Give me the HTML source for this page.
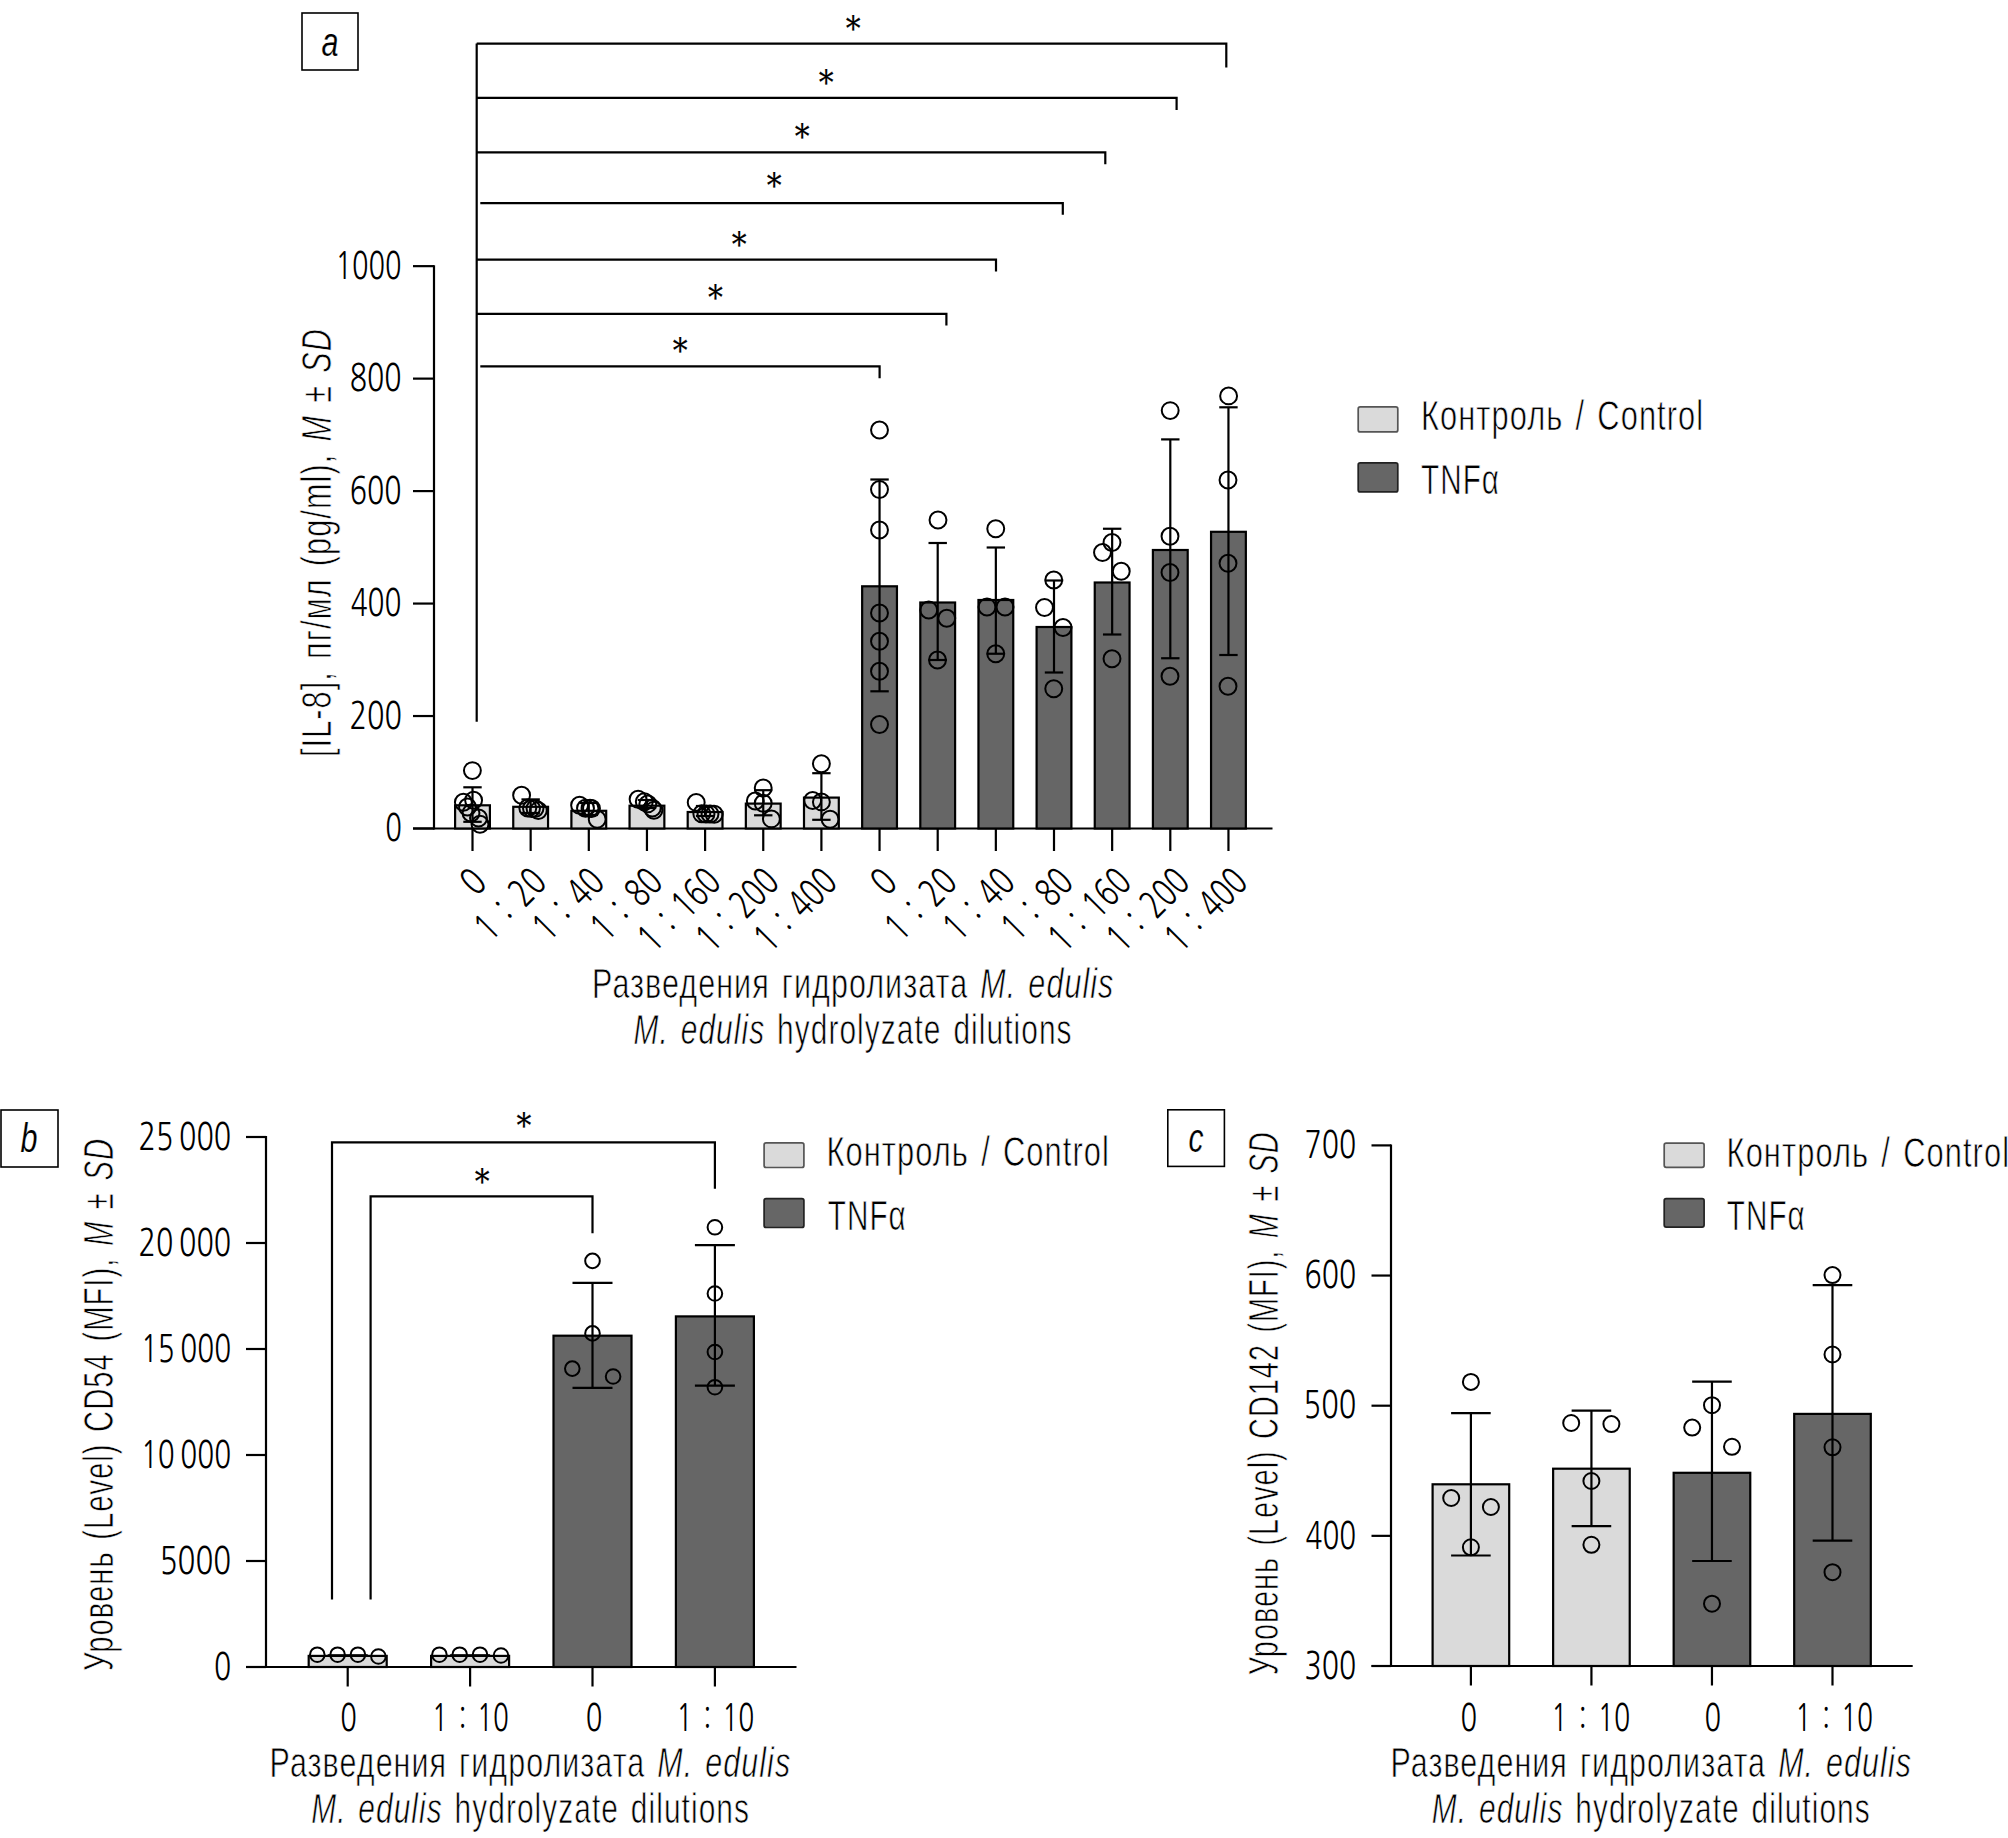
<!DOCTYPE html>
<html><head><meta charset="utf-8"><title>Figure</title>
<style>html,body{margin:0;padding:0;background:#fff;} svg{display:block;}</style>
</head><body>
<svg width="2008" height="1838" viewBox="0 0 2008 1838" font-family="'Liberation Sans', 'DejaVu Sans', sans-serif" fill="#000">
<style>text{stroke:#fff;stroke-width:0.75px;word-spacing:3.5px;letter-spacing:1.5px;} text.st{stroke:#000;stroke-width:0.15px;} text.lab{stroke-width:0.2px;} text.num{font-family:NanumGothic,'Liberation Sans',sans-serif;stroke-width:0.0px;letter-spacing:0px;word-spacing:5px;} text.lab{letter-spacing:0px;}</style>
<rect x="0" y="0" width="2008" height="1838" fill="#fff"/>
<rect x="302.00" y="13.00" width="56.00" height="57.00" fill="none" stroke="#000" stroke-width="1.6" rx="0"/>
<text x="321.50" y="56.30" font-size="40" text-anchor="start" textLength="17.00" lengthAdjust="spacingAndGlyphs" font-style="italic" class="lab">a</text>
<line x1="434.00" y1="265.15" x2="434.00" y2="829.50" stroke="#000" stroke-width="2.2"/>
<line x1="413.00" y1="828.50" x2="434.00" y2="828.50" stroke="#000" stroke-width="2.2"/>
<text x="401.90" y="841.20" font-size="38.0" text-anchor="end" textLength="16.65" lengthAdjust="spacingAndGlyphs" class="num">0</text>
<line x1="413.00" y1="716.03" x2="434.00" y2="716.03" stroke="#000" stroke-width="2.2"/>
<text x="401.90" y="728.73" font-size="38.0" text-anchor="end" textLength="52.45" lengthAdjust="spacingAndGlyphs" class="num">200</text>
<line x1="413.00" y1="603.56" x2="434.00" y2="603.56" stroke="#000" stroke-width="2.2"/>
<text x="401.50" y="616.26" font-size="38.0" text-anchor="end" textLength="50.85" lengthAdjust="spacingAndGlyphs" class="num">400</text>
<line x1="413.00" y1="491.09" x2="434.00" y2="491.09" stroke="#000" stroke-width="2.2"/>
<text x="401.50" y="503.79" font-size="38.0" text-anchor="end" textLength="51.85" lengthAdjust="spacingAndGlyphs" class="num">600</text>
<line x1="413.00" y1="378.62" x2="434.00" y2="378.62" stroke="#000" stroke-width="2.2"/>
<text x="401.50" y="391.32" font-size="38.0" text-anchor="end" textLength="51.85" lengthAdjust="spacingAndGlyphs" class="num">800</text>
<line x1="413.00" y1="266.15" x2="434.00" y2="266.15" stroke="#000" stroke-width="2.2"/>
<text x="401.50" y="278.85" font-size="38.0" text-anchor="end" textLength="66.00" lengthAdjust="spacingAndGlyphs" class="num">1000</text>
<g>
<text transform="translate(331.20,542.00) rotate(-90)" x="-0.50" y="0" font-size="42.5" text-anchor="middle" textLength="429.00" lengthAdjust="spacingAndGlyphs">[IL-8], пг/мл (pg/ml), <tspan font-style="italic">M</tspan> ± <tspan font-style="italic">SD</tspan></text>
</g>
<line x1="413.00" y1="828.50" x2="1272.50" y2="828.50" stroke="#000" stroke-width="2.2"/>
<line x1="472.50" y1="828.50" x2="472.50" y2="851.00" stroke="#000" stroke-width="2.2"/>
<line x1="530.65" y1="828.50" x2="530.65" y2="851.00" stroke="#000" stroke-width="2.2"/>
<line x1="588.80" y1="828.50" x2="588.80" y2="851.00" stroke="#000" stroke-width="2.2"/>
<line x1="646.95" y1="828.50" x2="646.95" y2="851.00" stroke="#000" stroke-width="2.2"/>
<line x1="705.10" y1="828.50" x2="705.10" y2="851.00" stroke="#000" stroke-width="2.2"/>
<line x1="763.25" y1="828.50" x2="763.25" y2="851.00" stroke="#000" stroke-width="2.2"/>
<line x1="821.40" y1="828.50" x2="821.40" y2="851.00" stroke="#000" stroke-width="2.2"/>
<line x1="879.55" y1="828.50" x2="879.55" y2="851.00" stroke="#000" stroke-width="2.2"/>
<line x1="937.70" y1="828.50" x2="937.70" y2="851.00" stroke="#000" stroke-width="2.2"/>
<line x1="995.85" y1="828.50" x2="995.85" y2="851.00" stroke="#000" stroke-width="2.2"/>
<line x1="1054.00" y1="828.50" x2="1054.00" y2="851.00" stroke="#000" stroke-width="2.2"/>
<line x1="1112.15" y1="828.50" x2="1112.15" y2="851.00" stroke="#000" stroke-width="2.2"/>
<line x1="1170.30" y1="828.50" x2="1170.30" y2="851.00" stroke="#000" stroke-width="2.2"/>
<line x1="1228.45" y1="828.50" x2="1228.45" y2="851.00" stroke="#000" stroke-width="2.2"/>
<rect x="455.10" y="805.30" width="34.80" height="23.20" fill="#dadada" stroke="#000" stroke-width="2.2" rx="0"/>
<rect x="513.25" y="806.80" width="34.80" height="21.70" fill="#dadada" stroke="#000" stroke-width="2.2" rx="0"/>
<rect x="571.40" y="810.80" width="34.80" height="17.70" fill="#dadada" stroke="#000" stroke-width="2.2" rx="0"/>
<rect x="629.55" y="805.70" width="34.80" height="22.80" fill="#dadada" stroke="#000" stroke-width="2.2" rx="0"/>
<rect x="687.70" y="812.00" width="34.80" height="16.50" fill="#dadada" stroke="#000" stroke-width="2.2" rx="0"/>
<rect x="745.85" y="803.60" width="34.80" height="24.90" fill="#dadada" stroke="#000" stroke-width="2.2" rx="0"/>
<rect x="804.00" y="797.60" width="34.80" height="30.90" fill="#dadada" stroke="#000" stroke-width="2.2" rx="0"/>
<rect x="862.15" y="586.30" width="34.80" height="242.20" fill="#666666" stroke="#000" stroke-width="2.2" rx="0"/>
<rect x="920.30" y="602.50" width="34.80" height="226.00" fill="#666666" stroke="#000" stroke-width="2.2" rx="0"/>
<rect x="978.45" y="600.00" width="34.80" height="228.50" fill="#666666" stroke="#000" stroke-width="2.2" rx="0"/>
<rect x="1036.60" y="627.00" width="34.80" height="201.50" fill="#666666" stroke="#000" stroke-width="2.2" rx="0"/>
<rect x="1094.75" y="582.50" width="34.80" height="246.00" fill="#666666" stroke="#000" stroke-width="2.2" rx="0"/>
<rect x="1152.90" y="550.00" width="34.80" height="278.50" fill="#666666" stroke="#000" stroke-width="2.2" rx="0"/>
<rect x="1211.05" y="531.80" width="34.80" height="296.70" fill="#666666" stroke="#000" stroke-width="2.2" rx="0"/>
<line x1="472.50" y1="787.30" x2="472.50" y2="821.80" stroke="#000" stroke-width="2.2"/>
<line x1="463.30" y1="787.30" x2="481.70" y2="787.30" stroke="#000" stroke-width="2.2"/>
<line x1="463.30" y1="821.80" x2="481.70" y2="821.80" stroke="#000" stroke-width="2.2"/>
<line x1="530.65" y1="799.40" x2="530.65" y2="813.00" stroke="#000" stroke-width="2.2"/>
<line x1="521.45" y1="799.40" x2="539.85" y2="799.40" stroke="#000" stroke-width="2.2"/>
<line x1="521.45" y1="813.00" x2="539.85" y2="813.00" stroke="#000" stroke-width="2.2"/>
<line x1="588.80" y1="803.00" x2="588.80" y2="815.00" stroke="#000" stroke-width="2.2"/>
<line x1="579.60" y1="803.00" x2="598.00" y2="803.00" stroke="#000" stroke-width="2.2"/>
<line x1="579.60" y1="815.00" x2="598.00" y2="815.00" stroke="#000" stroke-width="2.2"/>
<line x1="646.95" y1="800.00" x2="646.95" y2="808.00" stroke="#000" stroke-width="2.2"/>
<line x1="637.75" y1="800.00" x2="656.15" y2="800.00" stroke="#000" stroke-width="2.2"/>
<line x1="637.75" y1="808.00" x2="656.15" y2="808.00" stroke="#000" stroke-width="2.2"/>
<line x1="705.10" y1="806.00" x2="705.10" y2="816.00" stroke="#000" stroke-width="2.2"/>
<line x1="695.90" y1="806.00" x2="714.30" y2="806.00" stroke="#000" stroke-width="2.2"/>
<line x1="695.90" y1="816.00" x2="714.30" y2="816.00" stroke="#000" stroke-width="2.2"/>
<line x1="763.25" y1="790.20" x2="763.25" y2="815.30" stroke="#000" stroke-width="2.2"/>
<line x1="754.05" y1="790.20" x2="772.45" y2="790.20" stroke="#000" stroke-width="2.2"/>
<line x1="754.05" y1="815.30" x2="772.45" y2="815.30" stroke="#000" stroke-width="2.2"/>
<line x1="821.40" y1="773.20" x2="821.40" y2="819.80" stroke="#000" stroke-width="2.2"/>
<line x1="812.20" y1="773.20" x2="830.60" y2="773.20" stroke="#000" stroke-width="2.2"/>
<line x1="812.20" y1="819.80" x2="830.60" y2="819.80" stroke="#000" stroke-width="2.2"/>
<line x1="879.55" y1="479.50" x2="879.55" y2="691.30" stroke="#000" stroke-width="2.2"/>
<line x1="870.35" y1="479.50" x2="888.75" y2="479.50" stroke="#000" stroke-width="2.2"/>
<line x1="870.35" y1="691.30" x2="888.75" y2="691.30" stroke="#000" stroke-width="2.2"/>
<line x1="937.70" y1="543.00" x2="937.70" y2="660.00" stroke="#000" stroke-width="2.2"/>
<line x1="928.50" y1="543.00" x2="946.90" y2="543.00" stroke="#000" stroke-width="2.2"/>
<line x1="928.50" y1="660.00" x2="946.90" y2="660.00" stroke="#000" stroke-width="2.2"/>
<line x1="995.85" y1="547.50" x2="995.85" y2="653.75" stroke="#000" stroke-width="2.2"/>
<line x1="986.65" y1="547.50" x2="1005.05" y2="547.50" stroke="#000" stroke-width="2.2"/>
<line x1="986.65" y1="653.75" x2="1005.05" y2="653.75" stroke="#000" stroke-width="2.2"/>
<line x1="1054.00" y1="580.50" x2="1054.00" y2="672.50" stroke="#000" stroke-width="2.2"/>
<line x1="1044.80" y1="580.50" x2="1063.20" y2="580.50" stroke="#000" stroke-width="2.2"/>
<line x1="1044.80" y1="672.50" x2="1063.20" y2="672.50" stroke="#000" stroke-width="2.2"/>
<line x1="1112.15" y1="528.75" x2="1112.15" y2="634.50" stroke="#000" stroke-width="2.2"/>
<line x1="1102.95" y1="528.75" x2="1121.35" y2="528.75" stroke="#000" stroke-width="2.2"/>
<line x1="1102.95" y1="634.50" x2="1121.35" y2="634.50" stroke="#000" stroke-width="2.2"/>
<line x1="1170.30" y1="439.40" x2="1170.30" y2="658.25" stroke="#000" stroke-width="2.2"/>
<line x1="1161.10" y1="439.40" x2="1179.50" y2="439.40" stroke="#000" stroke-width="2.2"/>
<line x1="1161.10" y1="658.25" x2="1179.50" y2="658.25" stroke="#000" stroke-width="2.2"/>
<line x1="1228.45" y1="407.30" x2="1228.45" y2="655.00" stroke="#000" stroke-width="2.2"/>
<line x1="1219.25" y1="407.30" x2="1237.65" y2="407.30" stroke="#000" stroke-width="2.2"/>
<line x1="1219.25" y1="655.00" x2="1237.65" y2="655.00" stroke="#000" stroke-width="2.2"/>
<circle cx="472.40" cy="770.60" r="8.45" fill="none" stroke="#000" stroke-width="2.0"/>
<circle cx="463.40" cy="802.30" r="8.45" fill="none" stroke="#000" stroke-width="2.0"/>
<circle cx="473.60" cy="800.20" r="8.45" fill="none" stroke="#000" stroke-width="2.0"/>
<circle cx="467.50" cy="807.00" r="8.45" fill="none" stroke="#000" stroke-width="2.0"/>
<circle cx="471.00" cy="813.00" r="8.45" fill="none" stroke="#000" stroke-width="2.0"/>
<circle cx="478.50" cy="818.00" r="8.45" fill="none" stroke="#000" stroke-width="2.0"/>
<circle cx="480.00" cy="824.30" r="8.45" fill="none" stroke="#000" stroke-width="2.0"/>
<circle cx="521.60" cy="795.30" r="8.45" fill="none" stroke="#000" stroke-width="2.0"/>
<circle cx="527.80" cy="808.00" r="8.45" fill="none" stroke="#000" stroke-width="2.0"/>
<circle cx="531.50" cy="808.50" r="8.45" fill="none" stroke="#000" stroke-width="2.0"/>
<circle cx="535.00" cy="808.50" r="8.45" fill="none" stroke="#000" stroke-width="2.0"/>
<circle cx="538.30" cy="810.60" r="8.45" fill="none" stroke="#000" stroke-width="2.0"/>
<circle cx="579.60" cy="805.20" r="8.45" fill="none" stroke="#000" stroke-width="2.0"/>
<circle cx="585.50" cy="808.20" r="8.45" fill="none" stroke="#000" stroke-width="2.0"/>
<circle cx="590.00" cy="808.20" r="8.45" fill="none" stroke="#000" stroke-width="2.0"/>
<circle cx="591.50" cy="808.50" r="8.45" fill="none" stroke="#000" stroke-width="2.0"/>
<circle cx="597.20" cy="819.20" r="8.45" fill="none" stroke="#000" stroke-width="2.0"/>
<circle cx="638.10" cy="799.30" r="8.45" fill="none" stroke="#000" stroke-width="2.0"/>
<circle cx="644.30" cy="801.70" r="8.45" fill="none" stroke="#000" stroke-width="2.0"/>
<circle cx="647.80" cy="803.90" r="8.45" fill="none" stroke="#000" stroke-width="2.0"/>
<circle cx="652.30" cy="808.10" r="8.45" fill="none" stroke="#000" stroke-width="2.0"/>
<circle cx="653.90" cy="810.30" r="8.45" fill="none" stroke="#000" stroke-width="2.0"/>
<circle cx="696.20" cy="802.40" r="8.45" fill="none" stroke="#000" stroke-width="2.0"/>
<circle cx="701.80" cy="813.80" r="8.45" fill="none" stroke="#000" stroke-width="2.0"/>
<circle cx="706.00" cy="814.00" r="8.45" fill="none" stroke="#000" stroke-width="2.0"/>
<circle cx="710.00" cy="814.00" r="8.45" fill="none" stroke="#000" stroke-width="2.0"/>
<circle cx="714.20" cy="814.20" r="8.45" fill="none" stroke="#000" stroke-width="2.0"/>
<circle cx="763.20" cy="788.00" r="8.45" fill="none" stroke="#000" stroke-width="2.0"/>
<circle cx="755.30" cy="801.00" r="8.45" fill="none" stroke="#000" stroke-width="2.0"/>
<circle cx="763.20" cy="803.20" r="8.45" fill="none" stroke="#000" stroke-width="2.0"/>
<circle cx="771.40" cy="818.90" r="8.45" fill="none" stroke="#000" stroke-width="2.0"/>
<circle cx="821.40" cy="763.80" r="8.45" fill="none" stroke="#000" stroke-width="2.0"/>
<circle cx="812.70" cy="800.50" r="8.45" fill="none" stroke="#000" stroke-width="2.0"/>
<circle cx="821.40" cy="801.90" r="8.45" fill="none" stroke="#000" stroke-width="2.0"/>
<circle cx="830.10" cy="819.30" r="8.45" fill="none" stroke="#000" stroke-width="2.0"/>
<circle cx="879.50" cy="430.00" r="8.45" fill="none" stroke="#000" stroke-width="2.0"/>
<circle cx="879.50" cy="489.50" r="8.45" fill="none" stroke="#000" stroke-width="2.0"/>
<circle cx="879.50" cy="530.00" r="8.45" fill="none" stroke="#000" stroke-width="2.0"/>
<circle cx="879.50" cy="613.00" r="8.45" fill="none" stroke="#000" stroke-width="2.0"/>
<circle cx="879.50" cy="641.25" r="8.45" fill="none" stroke="#000" stroke-width="2.0"/>
<circle cx="879.50" cy="671.25" r="8.45" fill="none" stroke="#000" stroke-width="2.0"/>
<circle cx="879.50" cy="724.50" r="8.45" fill="none" stroke="#000" stroke-width="2.0"/>
<circle cx="938.00" cy="520.00" r="8.45" fill="none" stroke="#000" stroke-width="2.0"/>
<circle cx="928.75" cy="610.00" r="8.45" fill="none" stroke="#000" stroke-width="2.0"/>
<circle cx="946.75" cy="618.25" r="8.45" fill="none" stroke="#000" stroke-width="2.0"/>
<circle cx="937.50" cy="660.00" r="8.45" fill="none" stroke="#000" stroke-width="2.0"/>
<circle cx="995.75" cy="528.75" r="8.45" fill="none" stroke="#000" stroke-width="2.0"/>
<circle cx="987.00" cy="607.00" r="8.45" fill="none" stroke="#000" stroke-width="2.0"/>
<circle cx="1005.00" cy="607.00" r="8.45" fill="none" stroke="#000" stroke-width="2.0"/>
<circle cx="995.75" cy="653.75" r="8.45" fill="none" stroke="#000" stroke-width="2.0"/>
<circle cx="1053.75" cy="580.00" r="8.45" fill="none" stroke="#000" stroke-width="2.0"/>
<circle cx="1044.50" cy="607.50" r="8.45" fill="none" stroke="#000" stroke-width="2.0"/>
<circle cx="1063.00" cy="627.50" r="8.45" fill="none" stroke="#000" stroke-width="2.0"/>
<circle cx="1053.75" cy="688.75" r="8.45" fill="none" stroke="#000" stroke-width="2.0"/>
<circle cx="1112.00" cy="542.50" r="8.45" fill="none" stroke="#000" stroke-width="2.0"/>
<circle cx="1102.50" cy="552.50" r="8.45" fill="none" stroke="#000" stroke-width="2.0"/>
<circle cx="1121.25" cy="571.25" r="8.45" fill="none" stroke="#000" stroke-width="2.0"/>
<circle cx="1112.00" cy="658.75" r="8.45" fill="none" stroke="#000" stroke-width="2.0"/>
<circle cx="1170.20" cy="410.60" r="8.45" fill="none" stroke="#000" stroke-width="2.0"/>
<circle cx="1170.00" cy="536.25" r="8.45" fill="none" stroke="#000" stroke-width="2.0"/>
<circle cx="1170.00" cy="572.50" r="8.45" fill="none" stroke="#000" stroke-width="2.0"/>
<circle cx="1170.00" cy="676.25" r="8.45" fill="none" stroke="#000" stroke-width="2.0"/>
<circle cx="1228.60" cy="395.90" r="8.45" fill="none" stroke="#000" stroke-width="2.0"/>
<circle cx="1228.00" cy="480.00" r="8.45" fill="none" stroke="#000" stroke-width="2.0"/>
<circle cx="1228.00" cy="563.25" r="8.45" fill="none" stroke="#000" stroke-width="2.0"/>
<circle cx="1228.00" cy="686.25" r="8.45" fill="none" stroke="#000" stroke-width="2.0"/>
<text transform="translate(489.00,884.80) rotate(-45)" x="0.00" y="0" font-size="38.0" text-anchor="end" textLength="18.00" lengthAdjust="spacingAndGlyphs" class="num">0</text>
<text transform="translate(548.65,884.50) rotate(-45)" x="0.00" y="0" font-size="38.0" text-anchor="end" textLength="82.50" lengthAdjust="spacingAndGlyphs" class="num">1 : 20</text>
<text transform="translate(606.80,884.50) rotate(-45)" x="0.00" y="0" font-size="38.0" text-anchor="end" textLength="82.50" lengthAdjust="spacingAndGlyphs" class="num">1 : 40</text>
<text transform="translate(664.95,884.50) rotate(-45)" x="0.00" y="0" font-size="38.0" text-anchor="end" textLength="82.50" lengthAdjust="spacingAndGlyphs" class="num">1 : 80</text>
<text transform="translate(723.10,884.50) rotate(-45)" x="0.00" y="0" font-size="38.0" text-anchor="end" textLength="98.00" lengthAdjust="spacingAndGlyphs" class="num">1 : 160</text>
<text transform="translate(781.25,884.50) rotate(-45)" x="0.00" y="0" font-size="38.0" text-anchor="end" textLength="98.00" lengthAdjust="spacingAndGlyphs" class="num">1 : 200</text>
<text transform="translate(839.40,884.50) rotate(-45)" x="0.00" y="0" font-size="38.0" text-anchor="end" textLength="98.00" lengthAdjust="spacingAndGlyphs" class="num">1 : 400</text>
<text transform="translate(899.55,884.80) rotate(-45)" x="0.00" y="0" font-size="38.0" text-anchor="end" textLength="18.00" lengthAdjust="spacingAndGlyphs" class="num">0</text>
<text transform="translate(959.20,884.50) rotate(-45)" x="0.00" y="0" font-size="38.0" text-anchor="end" textLength="82.50" lengthAdjust="spacingAndGlyphs" class="num">1 : 20</text>
<text transform="translate(1017.35,884.50) rotate(-45)" x="0.00" y="0" font-size="38.0" text-anchor="end" textLength="82.50" lengthAdjust="spacingAndGlyphs" class="num">1 : 40</text>
<text transform="translate(1075.50,884.50) rotate(-45)" x="0.00" y="0" font-size="38.0" text-anchor="end" textLength="82.50" lengthAdjust="spacingAndGlyphs" class="num">1 : 80</text>
<text transform="translate(1133.65,884.50) rotate(-45)" x="0.00" y="0" font-size="38.0" text-anchor="end" textLength="98.00" lengthAdjust="spacingAndGlyphs" class="num">1 : 160</text>
<text transform="translate(1191.80,884.50) rotate(-45)" x="0.00" y="0" font-size="38.0" text-anchor="end" textLength="98.00" lengthAdjust="spacingAndGlyphs" class="num">1 : 200</text>
<text transform="translate(1249.95,884.50) rotate(-45)" x="0.00" y="0" font-size="38.0" text-anchor="end" textLength="98.00" lengthAdjust="spacingAndGlyphs" class="num">1 : 400</text>
<text x="592.00" y="997.80" font-size="42.5" text-anchor="start" textLength="522.40" lengthAdjust="spacingAndGlyphs">Разведения гидролизата <tspan font-style="italic">M. edulis</tspan></text>
<text x="633.60" y="1043.70" font-size="42.5" text-anchor="start" textLength="439.00" lengthAdjust="spacingAndGlyphs"><tspan font-style="italic">M. edulis</tspan> hydrolyzate dilutions</text>
<line x1="476.70" y1="43.60" x2="476.70" y2="721.80" stroke="#000" stroke-width="2.2"/>
<path d="M476.70,43.60 H1226.30 V67.50" fill="none" stroke="#000" stroke-width="2.2" stroke-linejoin="miter" stroke-linecap="butt"/>
<path d="M476.70,97.90 H1176.60 V110.00" fill="none" stroke="#000" stroke-width="2.2" stroke-linejoin="miter" stroke-linecap="butt"/>
<path d="M476.70,152.30 H1105.30 V164.30" fill="none" stroke="#000" stroke-width="2.2" stroke-linejoin="miter" stroke-linecap="butt"/>
<path d="M480.30,203.20 H1062.80 V214.80" fill="none" stroke="#000" stroke-width="2.2" stroke-linejoin="miter" stroke-linecap="butt"/>
<path d="M476.70,259.60 H996.00 V271.40" fill="none" stroke="#000" stroke-width="2.2" stroke-linejoin="miter" stroke-linecap="butt"/>
<path d="M476.70,313.90 H946.40 V325.40" fill="none" stroke="#000" stroke-width="2.2" stroke-linejoin="miter" stroke-linecap="butt"/>
<path d="M480.30,366.40 H879.60 V378.20" fill="none" stroke="#000" stroke-width="2.2" stroke-linejoin="miter" stroke-linecap="butt"/>
<text class="st" x="853.90" y="22.90" font-family="DejaVu Serif" font-size="33" text-anchor="middle" dy="17.26" textLength="16.2" lengthAdjust="spacingAndGlyphs">*</text>
<text class="st" x="826.90" y="77.00" font-family="DejaVu Serif" font-size="33" text-anchor="middle" dy="17.26" textLength="16.2" lengthAdjust="spacingAndGlyphs">*</text>
<text class="st" x="802.90" y="130.30" font-family="DejaVu Serif" font-size="33" text-anchor="middle" dy="17.26" textLength="16.2" lengthAdjust="spacingAndGlyphs">*</text>
<text class="st" x="774.90" y="180.20" font-family="DejaVu Serif" font-size="33" text-anchor="middle" dy="17.26" textLength="16.2" lengthAdjust="spacingAndGlyphs">*</text>
<text class="st" x="739.80" y="239.00" font-family="DejaVu Serif" font-size="33" text-anchor="middle" dy="17.26" textLength="16.2" lengthAdjust="spacingAndGlyphs">*</text>
<text class="st" x="716.00" y="292.10" font-family="DejaVu Serif" font-size="33" text-anchor="middle" dy="17.26" textLength="16.2" lengthAdjust="spacingAndGlyphs">*</text>
<text class="st" x="680.90" y="345.10" font-family="DejaVu Serif" font-size="33" text-anchor="middle" dy="17.26" textLength="16.2" lengthAdjust="spacingAndGlyphs">*</text>
<rect x="1358.20" y="406.90" width="39.60" height="25.00" fill="#dadada" stroke="#555" stroke-width="1.7" rx="2"/>
<rect x="1358.20" y="462.90" width="39.60" height="29.00" fill="#666666" stroke="#222" stroke-width="1.7" rx="2"/>
<text x="1421.00" y="430.00" font-size="42.5" text-anchor="start" textLength="283.20" lengthAdjust="spacingAndGlyphs">Контроль / Control</text>
<text x="1421.00" y="493.80" font-size="42.5" text-anchor="start" textLength="79.00" lengthAdjust="spacingAndGlyphs">TNFα</text>
<rect x="1.00" y="1110.00" width="57.00" height="57.00" fill="none" stroke="#000" stroke-width="1.6" rx="0"/>
<text x="20.50" y="1152.20" font-size="40" text-anchor="start" textLength="17.00" lengthAdjust="spacingAndGlyphs" font-style="italic" class="lab">b</text>
<line x1="266.00" y1="1136.00" x2="266.00" y2="1668.00" stroke="#000" stroke-width="2.2"/>
<line x1="246.00" y1="1667.00" x2="266.00" y2="1667.00" stroke="#000" stroke-width="2.2"/>
<text x="231.10" y="1679.70" font-size="38.0" text-anchor="end" textLength="17.20" lengthAdjust="spacingAndGlyphs" class="num">0</text>
<line x1="246.00" y1="1561.00" x2="266.00" y2="1561.00" stroke="#000" stroke-width="2.2"/>
<text x="231.10" y="1573.70" font-size="38.0" text-anchor="end" textLength="71.40" lengthAdjust="spacingAndGlyphs" class="num">5000</text>
<line x1="246.00" y1="1455.00" x2="266.00" y2="1455.00" stroke="#000" stroke-width="2.2"/>
<text x="231.20" y="1467.70" font-size="38.0" text-anchor="end" textLength="90.30" lengthAdjust="spacingAndGlyphs" class="num">10 000</text>
<line x1="246.00" y1="1349.00" x2="266.00" y2="1349.00" stroke="#000" stroke-width="2.2"/>
<text x="231.20" y="1361.70" font-size="38.0" text-anchor="end" textLength="90.30" lengthAdjust="spacingAndGlyphs" class="num">15 000</text>
<line x1="246.00" y1="1243.00" x2="266.00" y2="1243.00" stroke="#000" stroke-width="2.2"/>
<text x="231.20" y="1255.70" font-size="38.0" text-anchor="end" textLength="92.60" lengthAdjust="spacingAndGlyphs" class="num">20 000</text>
<line x1="246.00" y1="1137.00" x2="266.00" y2="1137.00" stroke="#000" stroke-width="2.2"/>
<text x="231.20" y="1149.70" font-size="38.0" text-anchor="end" textLength="92.60" lengthAdjust="spacingAndGlyphs" class="num">25 000</text>
<text transform="translate(112.70,1404.75) rotate(-90)" x="0.25" y="0" font-size="42.5" text-anchor="middle" textLength="533.00" lengthAdjust="spacingAndGlyphs">Уровень (Level) CD54 (MFI), <tspan font-style="italic">M</tspan> ± <tspan font-style="italic">SD</tspan></text>
<line x1="246.00" y1="1667.00" x2="796.50" y2="1667.00" stroke="#000" stroke-width="2.2"/>
<line x1="347.70" y1="1667.00" x2="347.70" y2="1686.50" stroke="#000" stroke-width="2.2"/>
<line x1="470.10" y1="1667.00" x2="470.10" y2="1686.50" stroke="#000" stroke-width="2.2"/>
<line x1="592.50" y1="1667.00" x2="592.50" y2="1686.50" stroke="#000" stroke-width="2.2"/>
<line x1="714.90" y1="1667.00" x2="714.90" y2="1686.50" stroke="#000" stroke-width="2.2"/>
<rect x="308.70" y="1655.90" width="78.00" height="11.10" fill="#dadada" stroke="#000" stroke-width="2.2" rx="0"/>
<rect x="431.10" y="1655.90" width="78.00" height="11.10" fill="#dadada" stroke="#000" stroke-width="2.2" rx="0"/>
<rect x="553.50" y="1335.70" width="78.00" height="331.30" fill="#666666" stroke="#000" stroke-width="2.2" rx="0"/>
<rect x="675.90" y="1316.40" width="78.00" height="350.60" fill="#666666" stroke="#000" stroke-width="2.2" rx="0"/>
<line x1="347.70" y1="1655.30" x2="347.70" y2="1655.90" stroke="#000" stroke-width="2.2"/>
<line x1="327.70" y1="1655.30" x2="367.70" y2="1655.30" stroke="#000" stroke-width="2.2"/>
<line x1="327.70" y1="1655.90" x2="367.70" y2="1655.90" stroke="#000" stroke-width="2.2"/>
<line x1="470.10" y1="1655.30" x2="470.10" y2="1655.90" stroke="#000" stroke-width="2.2"/>
<line x1="450.10" y1="1655.30" x2="490.10" y2="1655.30" stroke="#000" stroke-width="2.2"/>
<line x1="450.10" y1="1655.90" x2="490.10" y2="1655.90" stroke="#000" stroke-width="2.2"/>
<line x1="592.50" y1="1282.80" x2="592.50" y2="1387.90" stroke="#000" stroke-width="2.2"/>
<line x1="572.50" y1="1282.80" x2="612.50" y2="1282.80" stroke="#000" stroke-width="2.2"/>
<line x1="572.50" y1="1387.90" x2="612.50" y2="1387.90" stroke="#000" stroke-width="2.2"/>
<line x1="714.90" y1="1245.20" x2="714.90" y2="1385.60" stroke="#000" stroke-width="2.2"/>
<line x1="694.90" y1="1245.20" x2="734.90" y2="1245.20" stroke="#000" stroke-width="2.2"/>
<line x1="694.90" y1="1385.60" x2="734.90" y2="1385.60" stroke="#000" stroke-width="2.2"/>
<circle cx="317.30" cy="1654.70" r="7.30" fill="none" stroke="#000" stroke-width="2.0"/>
<circle cx="337.60" cy="1654.70" r="7.30" fill="none" stroke="#000" stroke-width="2.0"/>
<circle cx="357.90" cy="1654.70" r="7.30" fill="none" stroke="#000" stroke-width="2.0"/>
<circle cx="378.40" cy="1656.50" r="7.30" fill="none" stroke="#000" stroke-width="2.0"/>
<circle cx="439.40" cy="1654.70" r="7.30" fill="none" stroke="#000" stroke-width="2.0"/>
<circle cx="459.70" cy="1654.70" r="7.30" fill="none" stroke="#000" stroke-width="2.0"/>
<circle cx="480.00" cy="1654.70" r="7.30" fill="none" stroke="#000" stroke-width="2.0"/>
<circle cx="501.00" cy="1655.50" r="7.30" fill="none" stroke="#000" stroke-width="2.0"/>
<circle cx="592.50" cy="1260.90" r="7.30" fill="none" stroke="#000" stroke-width="2.0"/>
<circle cx="592.50" cy="1333.40" r="7.30" fill="none" stroke="#000" stroke-width="2.0"/>
<circle cx="572.30" cy="1368.60" r="7.30" fill="none" stroke="#000" stroke-width="2.0"/>
<circle cx="613.10" cy="1376.50" r="7.30" fill="none" stroke="#000" stroke-width="2.0"/>
<circle cx="714.90" cy="1227.30" r="7.30" fill="none" stroke="#000" stroke-width="2.0"/>
<circle cx="714.90" cy="1293.50" r="7.30" fill="none" stroke="#000" stroke-width="2.0"/>
<circle cx="714.90" cy="1352.00" r="7.30" fill="none" stroke="#000" stroke-width="2.0"/>
<circle cx="714.90" cy="1387.20" r="7.30" fill="none" stroke="#000" stroke-width="2.0"/>
<text x="348.55" y="1730.70" font-size="38.0" text-anchor="middle" textLength="16.60" lengthAdjust="spacingAndGlyphs" class="num">0</text>
<text x="470.30" y="1730.70" font-size="38.0" text-anchor="middle" textLength="76.80" lengthAdjust="spacingAndGlyphs" class="num">1 : 10</text>
<text x="594.05" y="1730.70" font-size="38.0" text-anchor="middle" textLength="16.60" lengthAdjust="spacingAndGlyphs" class="num">0</text>
<text x="715.30" y="1730.70" font-size="38.0" text-anchor="middle" textLength="77.80" lengthAdjust="spacingAndGlyphs" class="num">1 : 10</text>
<text x="269.60" y="1777.20" font-size="42.5" text-anchor="start" textLength="521.60" lengthAdjust="spacingAndGlyphs">Разведения гидролизата <tspan font-style="italic">M. edulis</tspan></text>
<text x="311.20" y="1823.00" font-size="42.5" text-anchor="start" textLength="438.80" lengthAdjust="spacingAndGlyphs"><tspan font-style="italic">M. edulis</tspan> hydrolyzate dilutions</text>
<path d="M332.0,1599.4 V1142.4 H714.9 V1188.8" fill="none" stroke="#000" stroke-width="2.2" stroke-linejoin="miter" stroke-linecap="butt"/>
<path d="M370.6,1599.4 V1196.3 H592.5 V1233.2" fill="none" stroke="#000" stroke-width="2.2" stroke-linejoin="miter" stroke-linecap="butt"/>
<text class="st" x="524.60" y="1120.20" font-family="DejaVu Serif" font-size="33" text-anchor="middle" dy="17.26" textLength="16.2" lengthAdjust="spacingAndGlyphs">*</text>
<text class="st" x="482.80" y="1175.70" font-family="DejaVu Serif" font-size="33" text-anchor="middle" dy="17.26" textLength="16.2" lengthAdjust="spacingAndGlyphs">*</text>
<rect x="764.10" y="1142.90" width="39.80" height="24.60" fill="#dadada" stroke="#555" stroke-width="1.7" rx="2"/>
<rect x="764.10" y="1198.60" width="39.80" height="28.90" fill="#666666" stroke="#222" stroke-width="1.7" rx="2"/>
<text x="826.40" y="1165.70" font-size="42.5" text-anchor="start" textLength="283.60" lengthAdjust="spacingAndGlyphs">Контроль / Control</text>
<text x="827.80" y="1230.00" font-size="42.5" text-anchor="start" textLength="79.00" lengthAdjust="spacingAndGlyphs">TNFα</text>
<rect x="1167.80" y="1109.80" width="56.60" height="56.60" fill="none" stroke="#000" stroke-width="1.6" rx="0"/>
<text x="1188.50" y="1152.20" font-size="40" text-anchor="start" textLength="15.00" lengthAdjust="spacingAndGlyphs" font-style="italic" class="lab">c</text>
<line x1="1391.00" y1="1144.40" x2="1391.00" y2="1667.00" stroke="#000" stroke-width="2.2"/>
<line x1="1371.50" y1="1666.00" x2="1391.00" y2="1666.00" stroke="#000" stroke-width="2.2"/>
<text x="1356.20" y="1678.70" font-size="38.0" text-anchor="end" textLength="51.60" lengthAdjust="spacingAndGlyphs" class="num">300</text>
<line x1="1371.50" y1="1535.85" x2="1391.00" y2="1535.85" stroke="#000" stroke-width="2.2"/>
<text x="1356.20" y="1548.55" font-size="38.0" text-anchor="end" textLength="50.60" lengthAdjust="spacingAndGlyphs" class="num">400</text>
<line x1="1371.50" y1="1405.70" x2="1391.00" y2="1405.70" stroke="#000" stroke-width="2.2"/>
<text x="1356.20" y="1418.40" font-size="38.0" text-anchor="end" textLength="52.60" lengthAdjust="spacingAndGlyphs" class="num">500</text>
<line x1="1371.50" y1="1275.55" x2="1391.00" y2="1275.55" stroke="#000" stroke-width="2.2"/>
<text x="1356.20" y="1288.25" font-size="38.0" text-anchor="end" textLength="51.60" lengthAdjust="spacingAndGlyphs" class="num">600</text>
<line x1="1371.50" y1="1145.40" x2="1391.00" y2="1145.40" stroke="#000" stroke-width="2.2"/>
<text x="1356.20" y="1158.10" font-size="38.0" text-anchor="end" textLength="51.60" lengthAdjust="spacingAndGlyphs" class="num">700</text>
<text transform="translate(1278.40,1403.90) rotate(-90)" x="0.60" y="0" font-size="42.5" text-anchor="middle" textLength="543.80" lengthAdjust="spacingAndGlyphs">Уровень (Level) CD142 (MFI), <tspan font-style="italic">M</tspan> ± <tspan font-style="italic">SD</tspan></text>
<line x1="1371.50" y1="1666.00" x2="1912.70" y2="1666.00" stroke="#000" stroke-width="2.2"/>
<line x1="1470.90" y1="1666.00" x2="1470.90" y2="1685.50" stroke="#000" stroke-width="2.2"/>
<line x1="1591.43" y1="1666.00" x2="1591.43" y2="1685.50" stroke="#000" stroke-width="2.2"/>
<line x1="1711.96" y1="1666.00" x2="1711.96" y2="1685.50" stroke="#000" stroke-width="2.2"/>
<line x1="1832.49" y1="1666.00" x2="1832.49" y2="1685.50" stroke="#000" stroke-width="2.2"/>
<rect x="1432.60" y="1484.30" width="76.60" height="181.70" fill="#dadada" stroke="#000" stroke-width="2.2" rx="0"/>
<rect x="1553.13" y="1468.70" width="76.60" height="197.30" fill="#dadada" stroke="#000" stroke-width="2.2" rx="0"/>
<rect x="1673.66" y="1472.80" width="76.60" height="193.20" fill="#666666" stroke="#000" stroke-width="2.2" rx="0"/>
<rect x="1794.19" y="1413.90" width="76.60" height="252.10" fill="#666666" stroke="#000" stroke-width="2.2" rx="0"/>
<line x1="1470.90" y1="1413.20" x2="1470.90" y2="1555.50" stroke="#000" stroke-width="2.2"/>
<line x1="1451.10" y1="1413.20" x2="1490.70" y2="1413.20" stroke="#000" stroke-width="2.2"/>
<line x1="1451.10" y1="1555.50" x2="1490.70" y2="1555.50" stroke="#000" stroke-width="2.2"/>
<line x1="1591.43" y1="1410.60" x2="1591.43" y2="1526.20" stroke="#000" stroke-width="2.2"/>
<line x1="1571.63" y1="1410.60" x2="1611.23" y2="1410.60" stroke="#000" stroke-width="2.2"/>
<line x1="1571.63" y1="1526.20" x2="1611.23" y2="1526.20" stroke="#000" stroke-width="2.2"/>
<line x1="1711.96" y1="1381.60" x2="1711.96" y2="1561.00" stroke="#000" stroke-width="2.2"/>
<line x1="1692.16" y1="1381.60" x2="1731.76" y2="1381.60" stroke="#000" stroke-width="2.2"/>
<line x1="1692.16" y1="1561.00" x2="1731.76" y2="1561.00" stroke="#000" stroke-width="2.2"/>
<line x1="1832.49" y1="1285.20" x2="1832.49" y2="1540.70" stroke="#000" stroke-width="2.2"/>
<line x1="1812.69" y1="1285.20" x2="1852.29" y2="1285.20" stroke="#000" stroke-width="2.2"/>
<line x1="1812.69" y1="1540.70" x2="1852.29" y2="1540.70" stroke="#000" stroke-width="2.2"/>
<circle cx="1470.90" cy="1381.90" r="8.00" fill="none" stroke="#000" stroke-width="2.0"/>
<circle cx="1451.20" cy="1498.00" r="8.00" fill="none" stroke="#000" stroke-width="2.0"/>
<circle cx="1490.90" cy="1507.00" r="8.00" fill="none" stroke="#000" stroke-width="2.0"/>
<circle cx="1470.90" cy="1547.30" r="8.00" fill="none" stroke="#000" stroke-width="2.0"/>
<circle cx="1571.20" cy="1423.00" r="8.00" fill="none" stroke="#000" stroke-width="2.0"/>
<circle cx="1611.40" cy="1424.10" r="8.00" fill="none" stroke="#000" stroke-width="2.0"/>
<circle cx="1591.40" cy="1481.00" r="8.00" fill="none" stroke="#000" stroke-width="2.0"/>
<circle cx="1591.40" cy="1544.80" r="8.00" fill="none" stroke="#000" stroke-width="2.0"/>
<circle cx="1712.00" cy="1405.20" r="8.00" fill="none" stroke="#000" stroke-width="2.0"/>
<circle cx="1692.20" cy="1427.60" r="8.00" fill="none" stroke="#000" stroke-width="2.0"/>
<circle cx="1732.00" cy="1446.80" r="8.00" fill="none" stroke="#000" stroke-width="2.0"/>
<circle cx="1712.00" cy="1603.70" r="8.00" fill="none" stroke="#000" stroke-width="2.0"/>
<circle cx="1832.50" cy="1275.10" r="8.00" fill="none" stroke="#000" stroke-width="2.0"/>
<circle cx="1832.50" cy="1354.50" r="8.00" fill="none" stroke="#000" stroke-width="2.0"/>
<circle cx="1832.50" cy="1447.30" r="8.00" fill="none" stroke="#000" stroke-width="2.0"/>
<circle cx="1832.50" cy="1572.20" r="8.00" fill="none" stroke="#000" stroke-width="2.0"/>
<text x="1468.75" y="1730.70" font-size="38.0" text-anchor="middle" textLength="16.60" lengthAdjust="spacingAndGlyphs" class="num">0</text>
<text x="1590.68" y="1730.70" font-size="38.0" text-anchor="middle" textLength="78.90" lengthAdjust="spacingAndGlyphs" class="num">1 : 10</text>
<text x="1712.71" y="1730.70" font-size="38.0" text-anchor="middle" textLength="16.60" lengthAdjust="spacingAndGlyphs" class="num">0</text>
<text x="1834.09" y="1730.70" font-size="38.0" text-anchor="middle" textLength="77.80" lengthAdjust="spacingAndGlyphs" class="num">1 : 10</text>
<text x="1390.40" y="1777.20" font-size="42.5" text-anchor="start" textLength="521.60" lengthAdjust="spacingAndGlyphs">Разведения гидролизата <tspan font-style="italic">M. edulis</tspan></text>
<text x="1431.80" y="1823.00" font-size="42.5" text-anchor="start" textLength="439.00" lengthAdjust="spacingAndGlyphs"><tspan font-style="italic">M. edulis</tspan> hydrolyzate dilutions</text>
<rect x="1664.20" y="1143.10" width="39.90" height="24.20" fill="#dadada" stroke="#555" stroke-width="1.7" rx="2"/>
<rect x="1664.20" y="1198.70" width="39.90" height="28.40" fill="#666666" stroke="#222" stroke-width="1.7" rx="2"/>
<text x="1726.60" y="1166.70" font-size="42.5" text-anchor="start" textLength="283.50" lengthAdjust="spacingAndGlyphs">Контроль / Control</text>
<text x="1726.80" y="1229.60" font-size="42.5" text-anchor="start" textLength="79.00" lengthAdjust="spacingAndGlyphs">TNFα</text>
</svg>
</body></html>
